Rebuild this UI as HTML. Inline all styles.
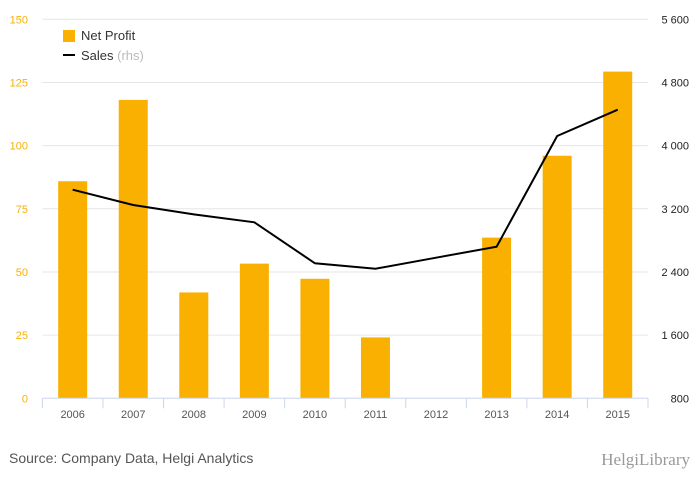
<!DOCTYPE html>
<html><head><meta charset="utf-8"><style>
body{margin:0;background:#fff;width:700px;height:483px;overflow:hidden;font-family:"Liberation Sans",sans-serif}
</style></head><body>
<svg id="chart" width="700" height="483" xmlns="http://www.w3.org/2000/svg" font-family="Liberation Sans, sans-serif">
<g id="grid"></g>
<g id="bars"></g>
<g id="line"></g>
<g id="axes"></g>
<g>
<rect x="63" y="30" width="12" height="12" fill="#f9b000"/>
<text x="81" y="40" font-size="13" fill="#333">Net Profit</text>
<line x1="63" y1="55" x2="75" y2="55" stroke="#000" stroke-width="2"/>
<text x="81" y="60" font-size="13" fill="#333">Sales <tspan fill="#bbb">(rhs)</tspan></text>
</g>
<text x="9" y="463" font-size="14" fill="#555">Source: Company Data, Helgi Analytics</text>
<text x="690" y="465" font-size="17" fill="#999" text-anchor="end" font-family="Liberation Serif, serif">HelgiLibrary</text>
</svg>
<script>
const categories=["2006","2007","2008","2009","2010","2011","2012","2013","2014","2015"];
const netProfit=[85.9,118.1,41.9,53.3,47.3,24.1,0,63.6,96,129.3];
const sales=[3442,3248,3130,3029,2510,2441,2581,2720,4122,4455];
const leftTicks=[0,25,50,75,100,125,150];
const rightTicks=[800,1600,2400,3200,4000,4800,5600];
const rightTickLabels=["800","1 600","2 400","3 200","4 000","4 800","5 600"];
const NS="http://www.w3.org/2000/svg";
const X0=42.4,X1=648,Y0=398.3,Y1=19.3;
const bw=(X1-X0)/categories.length;
const xc=i=>X0+bw*(i+0.5);
const yL=v=>Y0-(v/150)*(Y0-Y1);
const yR=v=>Y0-((v-800)/4800)*(Y0-Y1);
function mk(tag,attrs,parent){const e=document.createElementNS(NS,tag);for(const k in attrs)e.setAttribute(k,attrs[k]);parent.appendChild(e);return e;}
const grid=document.getElementById('grid'),bars=document.getElementById('bars'),line=document.getElementById('line'),axes=document.getElementById('axes');
leftTicks.forEach((t,i)=>{
  if(t>0){const g=mk('line',{x1:X0,x2:X1,y1:yL(t),y2:yL(t),stroke:'#e6e6e6','stroke-width':1},grid);
  
  }
  const l=mk('text',{x:28,y:yL(t)+4,'font-size':11,fill:'#f9b000','text-anchor':'end'},axes);l.textContent=t;
  
  
});
rightTicks.forEach((t,i)=>{
  const l=mk('text',{x:689,y:yR(t)+4,'font-size':11,fill:'#222','text-anchor':'end'},axes);l.textContent=rightTickLabels[i];
  
  
});
netProfit.forEach((v,i)=>{
  if(v<=0)return;
  const r=mk('rect',{x:xc(i)-14.5,y:yL(v),width:29,height:Y0-yL(v),fill:'#f9b000'},bars);
  
  
});
const ax=mk('line',{x1:X0,x2:X1,y1:Y0,y2:Y0,stroke:'#ccd6eb','stroke-width':1},axes);


for(let i=0;i<=categories.length;i++){
  const tk=mk('line',{x1:X0+bw*i,x2:X0+bw*i,y1:Y0,y2:Y0+10,stroke:'#ccd6eb'},axes);
  
  
}
categories.forEach((c,i)=>{
  const l=mk('text',{x:xc(i),y:418,'font-size':11,fill:'#555','text-anchor':'middle'},axes);l.textContent=c;
  
  
});
const p=mk('polyline',{points:sales.map((v,i)=>xc(i)+','+yR(v)).join(' '),fill:'none',stroke:'#000','stroke-width':2},line);


</script>
</body></html>
